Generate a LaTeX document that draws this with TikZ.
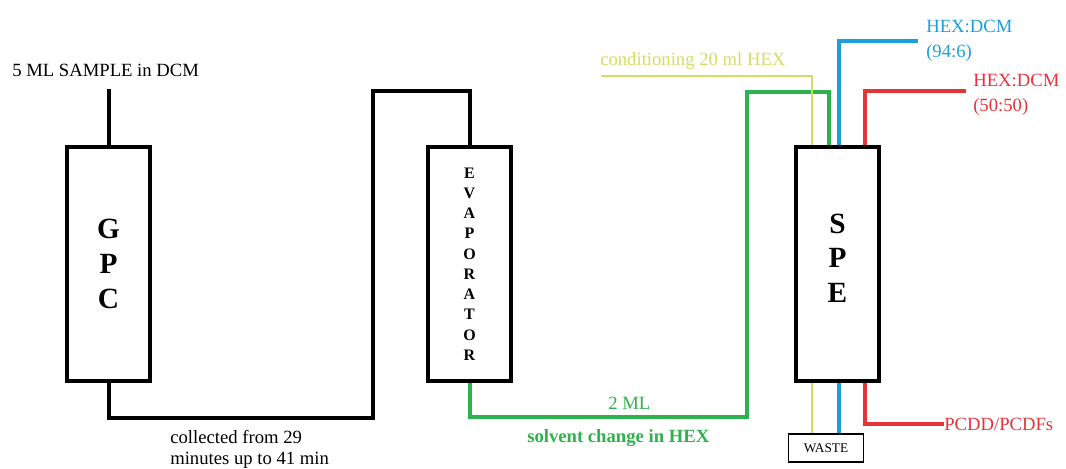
\documentclass[tikz,border=0pt]{standalone}
\usepackage{fontspec}
\setmainfont{Liberation Serif}
\definecolor{pipegreen}{RGB}{46,178,75}
\definecolor{condgreen}{RGB}{206,224,96}
\definecolor{hexblue}{RGB}{28,158,218}
\definecolor{hexred}{RGB}{228,52,58}
\tikzset{
	column/.style={draw, line width=3pt, fill=white, minimum width=62pt, minimum height=176pt, inner sep=0pt, align=center},
	bigletters/.style={font=\bfseries\fontsize{22}{26}\selectfont},
	pipe/.style={line width=3pt},
	label/.style={font=\fontsize{14}{19}\selectfont, inner sep=0pt},
}
\begin{document}
\begin{tikzpicture}[x=0.75pt, y=-0.75pt]
	\useasboundingbox (0,0) rectangle (1066,468);
	% columns
	\node[column, bigletters] (gpc) at (108.5,264) {G\\P\\C};
	\node[column, font=\bfseries\fontsize{12}{15.2}\selectfont] (evap) at (469.5,264) {E\\V\\A\\P\\O\\R\\A\\T\\O\\R};
	\node[column, bigletters] (spe) at (837.5,264) {S\\P\\E\\[-17pt]};
	\node[draw, line width=1.1pt, minimum width=56pt, minimum height=21pt, inner sep=0pt, font=\fontsize{10}{12}\selectfont] (waste) at (826,448) {WASTE};
	% labels
	\node[label, anchor=west] (sample) at (12,70) {5 ML SAMPLE in DCM};
	\node[label, anchor=north west, align=left, font=\fontsize{14}{15.5}\selectfont] (collect) at (170,430) {collected from 29\\minutes up to 41 min};
	\node[label, anchor=west, text=pipegreen] (twoml) at (608,403) {2 ML};
	\node[label, anchor=west, text=pipegreen, font=\bfseries\fontsize{14}{19}\selectfont] (solvent) at (527,438) {solvent change in HEX};
	\node[label, anchor=west, text=condgreen] (cond) at (600,61) {conditioning 20 ml HEX};
	\node[label, anchor=west, text=hexblue, align=left] (hexa) at (926,41) {HEX:DCM\\(94:6)};
	\node[label, anchor=west, text=hexred, align=left] (hexb) at (973,95) {HEX:DCM\\(50:50)};
	\node[label, anchor=west, text=hexred] (pcdd) at (944,424) {PCDD/PCDFs};
	% free ends
	\coordinate (in) at (108.5,89);
	\coordinate (condend) at (601,76);
	\coordinate (blueend) at (918,41);
	\coordinate (redend) at (966,91);
	% pipes
	\draw[pipe] (in) -- (gpc.north);
	\draw[pipe] (gpc.south) |- (373,418) -- (373,91) -| (evap.north);
	\draw[pipe, pipegreen] (evap.south) |- (747,417) -- (747,92) -| (spe.north -| 829,0);
	\draw[line width=1.1pt, condgreen] (condend) -| (spe.north -| 812,0);
	\draw[line width=1.1pt, condgreen] (spe.south -| 812,0) -- (waste.north -| 812,0);
	\draw[pipe, hexblue] (blueend) -| (spe.north -| 839,0);
	\draw[pipe, hexblue] (spe.south -| 839,0) -- (waste.north -| 839,0);
	\draw[pipe, hexred] (redend) -| (spe.north -| 865,0);
	\draw[pipe, hexred] (spe.south -| 865,0) |- (pcdd.west);
\end{tikzpicture}
\end{document}
